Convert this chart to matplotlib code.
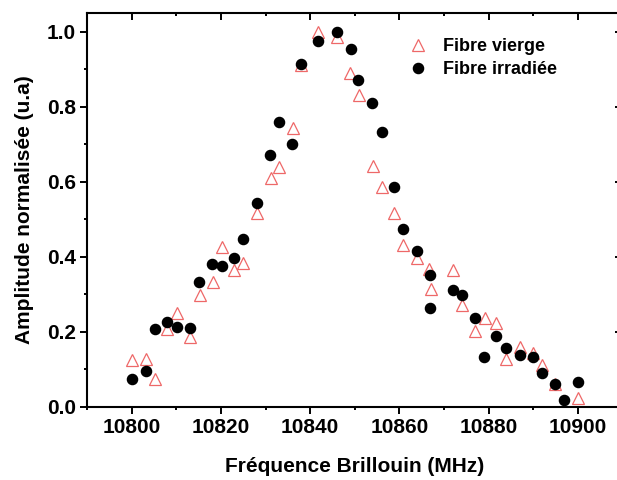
import matplotlib
matplotlib.use("Agg")
import matplotlib.pyplot as plt
from matplotlib.ticker import MultipleLocator

plt.rcParams['font.family'] = ['Liberation Sans', 'DejaVu Sans']
plt.rcParams['font.weight'] = 'bold'

# Fibre vierge (open triangles)
x_vierge = [10800.0, 10803.1, 10805.2, 10807.8, 10810.1, 10813.1, 10815.2, 10818.2,
            10820.2, 10822.9, 10825.0, 10828.0, 10831.2, 10833.1, 10836.1, 10837.9,
            10841.8, 10846.0, 10848.9, 10851.0, 10854.2, 10856.2, 10858.9, 10860.9,
            10864.0, 10866.7, 10867.0, 10872.1, 10874.0, 10877.0, 10879.1, 10881.7,
            10883.9, 10887.1, 10890.0, 10892.1, 10894.9, 10900.0]
y_vierge = [0.124, 0.127, 0.073, 0.207, 0.249, 0.186, 0.297, 0.331,
            0.425, 0.364, 0.383, 0.515, 0.609, 0.639, 0.742, 0.911,
            1.000, 0.985, 0.889, 0.831, 0.642, 0.586, 0.515, 0.430,
            0.397, 0.366, 0.313, 0.364, 0.271, 0.202, 0.235, 0.222,
            0.126, 0.158, 0.143, 0.111, 0.060, 0.022]

# Fibre irradiée (filled circles)
x_irr = [10800.0, 10803.1, 10805.2, 10808.0, 10810.1, 10813.1, 10815.1, 10818.1,
         10820.2, 10822.9, 10824.9, 10828.0, 10831.0, 10833.1, 10836.0, 10837.9,
         10841.8, 10846.0, 10849.1, 10850.8, 10853.9, 10856.1, 10858.9, 10860.9,
         10864.0, 10866.9, 10866.9, 10872.0, 10874.0, 10877.0, 10879.0, 10881.6,
         10883.9, 10887.1, 10890.0, 10891.9, 10894.9, 10896.9, 10900.0]
y_irr = [0.073, 0.095, 0.207, 0.225, 0.211, 0.209, 0.333, 0.381,
         0.375, 0.395, 0.446, 0.543, 0.671, 0.758, 0.700, 0.913,
         0.975, 0.998, 0.953, 0.871, 0.809, 0.733, 0.586, 0.473,
         0.416, 0.351, 0.262, 0.311, 0.297, 0.237, 0.133, 0.188,
         0.155, 0.137, 0.133, 0.089, 0.060, 0.017, 0.066]

labels = ['Fibre vierge', 'Fibre irradiée']
x_ticks = [10800, 10820, 10840, 10860, 10880, 10900]
y_ticks = [0.0, 0.2, 0.4, 0.6, 0.8, 1.0]

fig = plt.figure(figsize=(6.17, 4.80), dpi=100)
ax = fig.add_axes([0.1413, 0.1531, 0.8673, 0.8203])

ax.plot(x_vierge, y_vierge, linestyle='none', marker='^', markersize=8,
        markerfacecolor='none', markeredgecolor='#EE6868', markeredgewidth=0.9,
        label=labels[0], zorder=2)
ax.plot(x_irr, y_irr, linestyle='none', marker='o', markersize=7.3,
        markerfacecolor='black', markeredgecolor='black', label=labels[1], zorder=3)

ax.set_xlim(10790, 10910)
ax.set_ylim(0, 1.05)
ax.set_xticks(x_ticks)
ax.set_yticks(y_ticks)
ax.set_yticklabels([f"{v:.1f}" for v in y_ticks])
ax.xaxis.set_minor_locator(MultipleLocator(10))
ax.yaxis.set_minor_locator(MultipleLocator(0.1))

for s in ax.spines.values():
    s.set_linewidth(1.5)

ax.tick_params(axis='both', which='major', direction='out', length=5, width=1.4,
               labelsize=15, pad=3)
ax.tick_params(axis='both', which='minor', direction='out', length=2.5, width=1.4)
ax.tick_params(which='both', top=True, right=True)
# top/right ticks inward
for t in ax.xaxis.get_major_ticks() + ax.xaxis.get_minor_ticks():
    t.tick2line.set_marker(3)  # TICKDOWN
for t in ax.yaxis.get_major_ticks() + ax.yaxis.get_minor_ticks():
    t.tick2line.set_marker(0)  # TICKLEFT

for lab in ax.get_xticklabels() + ax.get_yticklabels():
    lab.set_fontweight('bold')

ax.set_xlabel('Fréquence Brillouin (MHz)', fontsize=15, fontweight='bold', labelpad=15)
ax.set_ylabel('Amplitude normalisée (u.a)', fontsize=15, fontweight='bold', labelpad=9)

leg = ax.legend(loc='upper left', bbox_to_anchor=(0.578, 0.968), frameon=False,
                handlelength=1.0, handletextpad=0.9, labelspacing=0.35,
                borderpad=0.2, prop={'weight': 'bold', 'size': 13})

fig.savefig('out.png', dpi=100, facecolor='white')
